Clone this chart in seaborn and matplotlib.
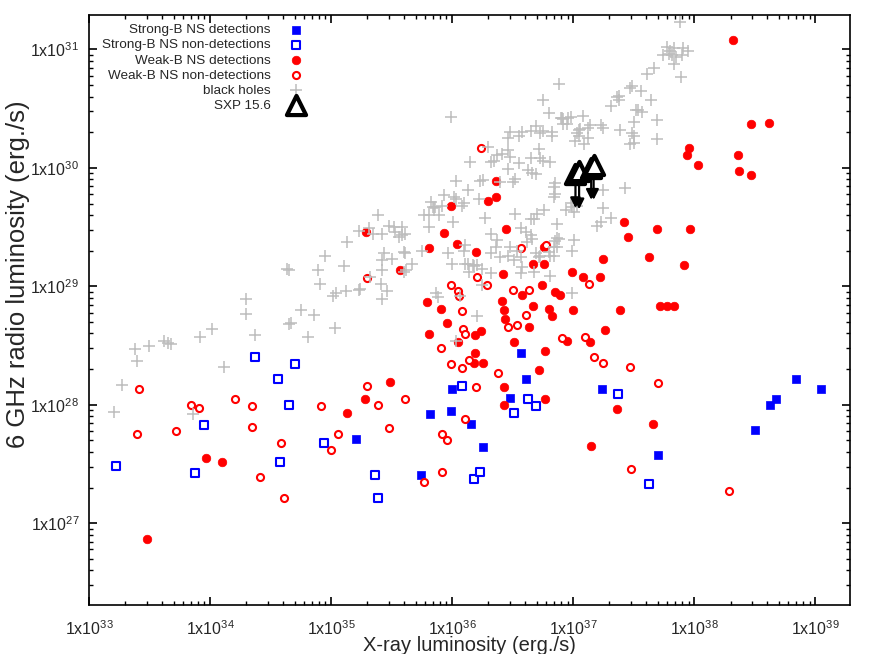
import numpy as np
import matplotlib
matplotlib.use("Agg")
import matplotlib.pyplot as plt
import seaborn as sns
from matplotlib.ticker import LogLocator, NullFormatter

# log10 luminosities: X-ray (erg/s) and 6 GHz radio (erg/s)
sb_det_lx = [35.21, 35.74, 35.82, 35.99, 36.00, 36.16, 36.26, 36.48, 36.57, 36.61,
             37.24, 37.70, 38.50, 38.63, 38.68, 38.84, 39.05]
sb_det_lr = [27.71, 27.41, 27.92, 27.95, 28.13, 27.84, 27.64, 28.06, 28.44, 28.22,
             28.13, 27.58, 27.79, 28.00, 28.05, 28.22, 28.13]

sb_non_lx = [33.22, 33.88, 33.95, 34.37, 34.56, 34.58, 34.65, 34.70, 34.94, 35.36,
             35.39, 36.08, 36.18, 36.23, 36.51, 36.63, 36.69, 37.37, 37.63]
sb_non_lr = [27.48, 27.42, 27.83, 28.40, 28.22, 27.52, 28.00, 28.34, 27.68, 27.41,
             27.21, 28.16, 27.37, 27.43, 27.93, 28.05, 27.99, 28.09, 27.33]

wb_det_lx = [33.48, 33.97, 34.10, 35.13, 35.28, 35.49, 35.29, 35.57, 35.79, 35.81,
             35.81, 35.91, 35.93, 35.96, 35.99, 36.04, 36.05, 36.19, 36.24, 36.19,
             36.18, 36.26, 36.20, 36.30, 36.36, 36.36, 36.41, 36.43, 36.44, 36.42,
             36.45, 36.43, 36.43, 36.51, 36.58, 36.64, 36.67, 36.67, 36.72, 36.74,
             36.76, 36.77, 36.77, 36.80, 36.83, 36.85, 36.89, 36.95, 36.99, 37.00,
             37.08, 37.14, 37.15, 37.22, 37.25, 37.26, 37.36, 37.39, 37.42, 37.45,
             37.63, 37.66, 37.69, 37.72, 37.78, 37.83, 37.92, 37.94, 37.96, 37.97,
             38.03, 38.32, 38.36, 38.37, 38.47, 38.47, 38.62, 36.76]
wb_det_lr = [26.87, 27.55, 27.52, 27.93, 28.05, 28.19, 29.46, 29.14, 28.87, 29.32,
             28.60, 28.81, 29.45, 28.69, 29.68, 29.36, 28.53, 28.59, 28.62, 28.44,
             28.35, 28.35, 29.29, 29.72, 29.89, 29.75, 28.88, 28.80, 28.72, 29.10,
             29.48, 28.15, 28.00, 28.53, 28.93, 28.66, 29.19, 28.83, 28.29, 29.01,
             29.19, 28.45, 28.05, 28.81, 28.75, 28.95, 28.93, 28.54, 29.12, 28.80,
             29.08, 28.53, 27.65, 29.08, 29.23, 28.63, 27.96, 28.80, 29.54, 29.42,
             29.25, 27.84, 29.48, 28.83, 28.83, 28.83, 29.18, 30.11, 30.17, 29.48,
             30.02, 31.08, 30.11, 29.97, 30.37, 29.94, 30.38, 29.33]

wb_non_lx = [33.40, 33.41, 33.72, 33.84, 33.91, 34.21, 34.35, 34.35, 34.41, 34.59,
             34.61, 34.92, 35.00, 35.06, 35.30, 35.30, 35.39, 35.48, 35.61, 35.77,
             35.91, 35.92, 35.92, 35.96, 35.99, 35.99, 36.05, 36.06, 36.08, 36.08,
             36.09, 36.11, 36.11, 36.14, 36.20, 36.21, 36.24, 36.29, 36.38, 36.46,
             36.50, 36.54, 36.57, 36.61, 36.64, 36.78, 36.91, 37.10, 37.13, 37.17,
             37.25, 37.47, 37.48, 37.70, 38.29]
wb_non_lr = [27.75, 28.13, 27.78, 28.00, 27.97, 28.05, 27.99, 27.81, 27.39, 27.68,
             27.21, 27.99, 27.62, 27.75, 28.16, 29.07, 28.00, 27.80, 28.05, 27.35,
             28.48, 27.75, 27.43, 27.70, 29.01, 28.34, 28.96, 28.92, 28.79, 28.31,
             28.64, 28.60, 27.88, 28.38, 28.15, 29.08, 30.17, 29.01, 28.27, 28.66,
             28.97, 28.67, 29.32, 28.76, 28.97, 29.35, 28.56, 28.57, 29.02, 28.40,
             28.35, 28.32, 27.46, 28.18, 27.27]

bh_lx = [33.21, 33.27, 33.38, 33.40, 33.50, 33.62, 33.65, 33.68, 33.86, 33.92,
         34.02, 34.12, 34.30, 34.30, 34.37, 34.65, 34.67, 34.75, 34.81, 34.86,
         34.91, 35.03, 35.02, 35.04, 35.12, 35.23, 35.24, 35.41, 35.42, 35.46,
         34.64, 34.65, 34.89, 34.95, 35.11, 35.13, 35.23, 35.31, 35.32, 35.35,
         35.39, 35.42, 35.42, 35.42, 35.44, 35.48, 35.50, 35.52, 35.53, 35.56,
         35.59, 35.59, 35.60, 35.60, 35.61, 35.61, 35.62, 35.67, 35.75, 35.77,
         35.81, 35.81, 35.83, 35.85, 35.84, 35.86, 35.87, 35.88, 35.89, 35.92,
         35.93, 35.97, 35.99, 36.00, 36.01, 36.02, 36.03, 36.03, 36.03, 36.07,
         36.08, 36.10, 36.10, 36.11, 36.11, 36.13, 36.13, 36.14, 36.15, 36.17,
         36.18, 36.21, 36.21, 36.22, 36.23, 36.25, 36.26, 36.25, 36.27, 36.30,
         36.32, 36.32, 36.32, 36.32, 36.35, 36.36, 36.37, 36.37, 36.40, 36.40,
         36.41, 36.46, 36.46, 36.46, 36.46, 36.48, 36.48, 36.48, 36.50, 36.51,
         36.52, 36.52, 36.54, 36.55, 36.55, 36.57, 36.57, 36.57, 36.58, 36.58,
         36.61, 36.62, 36.63, 36.65, 36.65, 36.65, 36.65, 36.66, 36.66, 36.68,
         36.68, 36.69, 36.69, 36.69, 36.70, 36.72, 36.72, 36.73, 36.73, 36.73,
         36.75, 36.75, 36.75, 36.76, 36.80, 36.80, 36.81, 36.81, 36.81, 36.83,
         36.83, 36.84, 36.84, 36.84, 36.84, 36.85, 36.85, 36.85, 36.87, 36.87,
         36.87, 36.88, 36.88, 36.90, 36.91, 36.92, 36.92, 36.94, 36.95, 36.96,
         36.98, 36.98, 36.99, 36.99, 36.99, 37.01, 37.01, 37.02, 37.03, 37.03,
         37.05, 37.05, 37.06, 37.08, 37.09, 37.12, 37.12, 37.14, 37.20, 37.23,
         37.23, 37.25, 37.25, 37.25, 37.31, 37.31, 37.36, 37.38, 37.38, 37.39,
         37.43, 37.47, 37.47, 37.49, 37.49, 37.50, 37.50, 37.50, 37.52, 37.54,
         37.56, 37.57, 37.61, 37.64, 37.67, 37.69, 37.69, 37.74, 37.78, 37.79,
         37.80, 37.82, 37.83, 37.83, 37.85, 37.88, 37.89, 37.90, 37.91, 37.95]
bh_lr = [27.94, 28.17, 28.47, 28.37, 28.50, 28.54, 28.52, 28.51, 27.92, 28.57,
         28.64, 28.32, 28.89, 28.77, 28.59, 28.68, 28.69, 28.80, 28.57, 28.76,
         29.02, 28.65, 28.92, 28.94, 28.96, 28.97, 28.98, 29.02, 28.89, 28.96,
         29.15, 29.14, 29.14, 29.26, 29.17, 29.37, 29.47, 29.49, 29.08, 29.44,
         29.60, 29.44, 29.22, 29.14, 29.28, 29.51, 29.23, 29.50, 29.46, 29.42,
         29.50, 29.43, 29.12, 29.29, 29.44, 29.28, 29.14, 29.19, 29.30, 29.60,
         29.60, 29.50, 29.71, 29.66, 29.67, 29.67, 28.94, 28.91, 29.60, 29.68,
         29.77, 29.28, 30.43, 29.19, 29.54, 29.75, 29.74, 28.54, 29.89, 28.92,
         29.68, 29.70, 29.30, 29.35, 29.19, 29.19, 29.81, 29.12, 30.05, 29.18,
         29.17, 29.18, 28.75, 29.74, 29.89, 29.01, 29.90, 29.15, 29.58, 30.18,
         30.05, 29.44, 29.28, 29.11, 30.06, 29.33, 30.11, 29.39, 29.88, 29.25,
         30.12, 30.15, 29.26, 30.25, 29.99, 30.30, 30.09, 29.33, 29.88, 29.22,
         29.91, 29.61, 29.30, 30.27, 30.04, 29.49, 29.25, 29.11, 30.30, 29.16,
         29.46, 29.37, 29.98, 30.31, 30.08, 29.57, 29.43, 29.96, 29.40, 29.57,
         29.12, 30.35, 29.95, 29.28, 29.61, 30.16, 29.25, 30.29, 30.08, 29.26,
         30.31, 30.06, 30.57, 29.64, 30.46, 29.29, 30.05, 29.26, 29.09, 30.30,
         30.27, 29.84, 29.75, 29.33, 29.26, 29.87, 29.78, 29.38, 29.53, 29.41,
         29.33, 30.71, 29.40, 30.42, 30.42, 30.41, 30.37, 29.64, 30.37, 30.42,
         30.43, 29.70, 29.67, 29.30, 28.94, 29.63, 29.39, 30.23, 30.29, 29.68,
         30.32, 30.27, 30.33, 30.44, 30.20, 30.34, 30.25, 30.36, 29.51, 30.36,
         29.54, 30.34, 29.81, 29.66, 30.52, 29.58, 30.60, 30.61, 30.57, 30.32,
         29.83, 30.67, 30.20, 30.69, 30.29, 30.27, 30.39, 30.21, 30.49, 30.49,
         30.65, 30.47, 30.79, 30.57, 30.84, 30.40, 30.24, 30.95, 31.02, 30.96,
         30.99, 30.95, 31.01, 30.88, 30.94, 31.23, 30.77, 30.95, 31.01, 30.99]

# SXP 15.6 radio upper limits and where the arrows end
sxp_lx = [37.02, 37.05, 37.15, 37.17]
sxp_lr = [29.95, 29.97, 30.00, 30.02]
sxp_lr_arrow = [29.66, 29.65, 29.73, 29.73]

x_decades = [33, 34, 35, 36, 37, 38, 39]
y_decades = [27, 28, 29, 30, 31]


def lum(v):
    return 10.0 ** np.array(v)


sns.set_style("ticks")
plt.rcParams["font.family"] = ["Liberation Sans", "DejaVu Sans"]
plt.rcParams["mathtext.fontset"] = "custom"
plt.rcParams["mathtext.rm"] = "Liberation Sans"
plt.rcParams["mathtext.it"] = "Liberation Sans"
plt.rcParams["mathtext.bf"] = "Liberation Sans:bold"

fig = plt.figure(figsize=(8.72, 6.54), dpi=100)
ax = fig.add_axes([0.102, 0.075, 0.873, 0.902])
ax.set_xscale("log")
ax.set_yscale("log")

sns.scatterplot(x=lum(sb_det_lx), y=lum(sb_det_lr), ax=ax, marker="s", s=32,
                color="#0000ff", edgecolor="#0000ff", linewidth=0.5,
                label="Strong-B NS detections", zorder=3)
sns.scatterplot(x=lum(sb_non_lx), y=lum(sb_non_lr), ax=ax, marker="s", s=28,
                facecolor="white", edgecolor="#0000ff", linewidth=1.5,
                label="Strong-B NS non-detections", zorder=3)
sns.scatterplot(x=lum(wb_det_lx), y=lum(wb_det_lr), ax=ax, marker="o", s=38,
                color="#ff0000", edgecolor="#ff0000", linewidth=0.5,
                label="Weak-B NS detections", zorder=3)
sns.scatterplot(x=lum(wb_non_lx), y=lum(wb_non_lr), ax=ax, marker="o", s=26,
                facecolor="white", edgecolor="#ff0000", linewidth=1.5,
                label="Weak-B NS non-detections", zorder=3)
sns.scatterplot(x=lum(bh_lx), y=lum(bh_lr), ax=ax, marker="+", s=64,
                color="#bdbdbd", linewidth=1.1,
                label="black holes", zorder=4)

# upper-limit arrows under the triangles
for xv, yv, ye in zip(sxp_lx, sxp_lr, sxp_lr_arrow):
    ax.annotate("", xy=(10 ** xv, 10 ** ye), xytext=(10 ** xv, 10 ** yv),
                arrowprops=dict(arrowstyle="-|>,head_length=0.5,head_width=0.25",
                                color="black", lw=1.6, shrinkA=0, shrinkB=0,
                                mutation_scale=12),
                zorder=5)
sns.scatterplot(x=lum(sxp_lx), y=lum(sxp_lr), ax=ax, marker="^", s=190,
                facecolor="white", edgecolor="black", linewidth=3.0,
                label="SXP 15.6", zorder=6)

ax.set_xlim(1e33, 10 ** 39.29)
ax.set_ylim(10 ** 26.31, 10 ** 31.29)

ax.set_xticks([10.0 ** d for d in x_decades])
ax.set_xticklabels([r"1x10$^{%d}$" % d for d in x_decades])
ax.set_yticks([10.0 ** d for d in y_decades])
ax.set_yticklabels([r"1x10$^{%d}$" % d for d in y_decades])
ax.xaxis.set_minor_locator(LogLocator(base=10, subs=np.arange(2, 10), numticks=30))
ax.yaxis.set_minor_locator(LogLocator(base=10, subs=np.arange(2, 10), numticks=30))
ax.xaxis.set_minor_formatter(NullFormatter())
ax.yaxis.set_minor_formatter(NullFormatter())
ax.tick_params(which="both", direction="in", top=True, right=True, color="black")
ax.tick_params(which="major", length=6, width=1.2, labelsize=11.5)
ax.tick_params(axis="x", which="major", pad=10)
ax.tick_params(axis="y", which="major", pad=7)
ax.tick_params(which="minor", length=3, width=1.0)
for sp in ax.spines.values():
    sp.set_linewidth(1.2)
    sp.set_color("black")

ax.set_xlabel("X-ray luminosity (erg./s)", fontsize=14.5, labelpad=-1)
ax.set_ylabel("6 GHz radio luminosity (erg./s)", fontsize=18.5)
ax.yaxis.set_label_coords(-0.078, 0.56)

ax.legend(loc="upper left", bbox_to_anchor=(0.017, 0.985), markerfirst=False,
          frameon=False, fontsize=9.7, labelspacing=0.2, handletextpad=0.9,
          borderpad=0, borderaxespad=0, handlelength=2.0)

fig.savefig("out.png", dpi=100)
